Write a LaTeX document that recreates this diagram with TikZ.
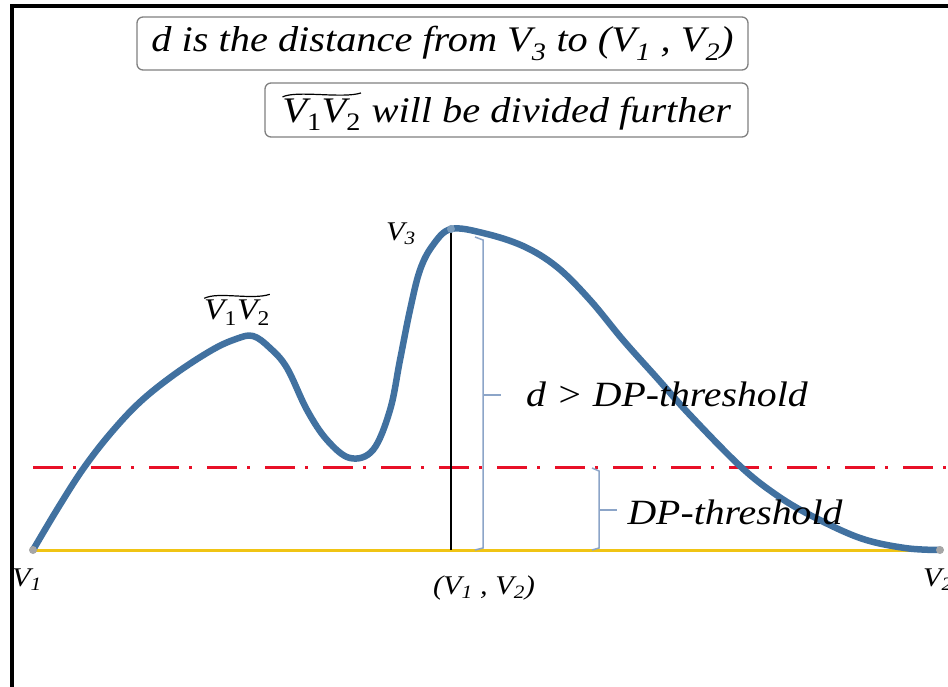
\documentclass[tikz,border=0pt]{standalone}
\usepackage{fontspec}
\setmainfont[FakeStretch=1.12]{Liberation Serif}

\definecolor{curveblue}{RGB}{65,113,160}
\definecolor{chordgold}{RGB}{240,196,20}
\definecolor{threshred}{RGB}{232,16,40}
\definecolor{bracegray}{RGB}{140,165,200}

\tikzset{
  curve/.style={line width=6.5pt, curveblue, line cap=round, line join=round},
  chord/.style={line width=3pt, chordgold},
  threshline/.style={line width=3pt, threshred, dash pattern=on 30pt off 10pt on 3pt off 15pt},
  bracket/.style={line width=1.5pt, bracegray},
  endpt/.style={circle, fill=gray!70, inner sep=0pt, minimum size=8pt},
  lbl/.style={font=\fontsize{27}{30}\selectfont\itshape, inner sep=0pt},
  note/.style={draw=gray, line width=1.3pt, rounded corners=6pt, font=\fontsize{36}{40}\selectfont\itshape, align=center}
}

% arc V1V2 with a wave over it
\newcommand{\arcpair}{\tikz[baseline=(ap.base)]{%
    \node[draw=none, inner sep=0pt, outer sep=0pt, minimum width=0pt, minimum height=0pt] (ap)
        {V\textsubscript{\upshape 1}V\textsubscript{\upshape 2}};
    \draw[black, line width=1.2pt, rounded corners=0pt]
        ([yshift=2pt]ap.north west) .. controls ([xshift=14pt,yshift=9pt]ap.north west)
        and ([xshift=-18pt,yshift=0pt]ap.north east) .. ([yshift=6pt]ap.north east);}}

\begin{document}
\begin{tikzpicture}[x=1pt, y=-1pt]
    \useasboundingbox (0,0) rectangle (948,687);

    % Frame
    \draw[line width=4pt] (11.5,687) -- (11.5,6.5) -- (960,6.5);

    % Notes on top
    \node[note, minimum width=611pt, minimum height=53pt] (note1) at (442.5,43.5)
        {d is the distance from V\textsubscript{3} to (V\textsubscript{1} , V\textsubscript{2})};
    \node[note, minimum width=483pt, minimum height=54pt] (note2) at (506.5,110)
        {\arcpair\ will be divided further};

    % End points of the segment
    \coordinate (v1) at (33,550);
    \coordinate (v2) at (940,550);
    \coordinate (v3) at (451,229);
    \coordinate (foot) at (451,550);

    % Threshold line
    \draw[threshline] (33,467) -- (960,467);

    % Chord from V1 to V2
    \draw[chord] (v1) -- (v2);

    % Distance brackets
    \draw[bracket] (475,237) -- (483,240) -- (483,548) -- (475,550);
    \draw[bracket] (483,395) -- (501,395);
    \draw[bracket] (592,468) -- (599,471) -- (599,548) -- (592,550);
    \draw[bracket] (599,510) -- (617,510);

    % Polyline to be simplified
    \draw[curve] plot[smooth, tension=0.6] coordinates {
        (33,550) (58,508) (83,469) (110,434) (140,402) (175,374) (212,350)
        (236,339) (253,336) (270,348) (287,368) (307,410) (327,440) (350,458)
        (373,450) (390,410) (400,360) (410,310) (420,270) (433,245) (451,229)
        (483,233) (523,246) (557,267) (590,300) (623,340) (657,378) (690,415)
        (740,466) (775,494) (810,515) (860,538) (905,548) (940,550)};

    % Distance d
    \draw[line width=2.5pt] (v3) -- (foot);

    \node[endpt] at (v1) {};
    \node[endpt] at (v2) {};
    \fill[curveblue!70] (v3) circle [radius=4pt];

    % Labels
    \node[lbl] (lv3) at (401,234) {V\textsubscript{3}};
    \node[lbl] (lv1) at (27,580) {V\textsubscript{1}};
    \node[lbl] (lv2) at (938,580) {V\textsubscript{2}};
    \node[lbl] (lfoot) at (484,588) {(V\textsubscript{1} , V\textsubscript{2})};
    \node[lbl, font=\fontsize{30}{32}\selectfont\itshape] (larc) at (237,308) {\arcpair};
    \node[lbl, font=\fontsize{35.5}{38}\selectfont\itshape] (ld) at (667,394) {d > DP-threshold};
    \node[lbl, font=\fontsize{35.5}{38}\selectfont\itshape] (lthr) at (735,512) {DP-threshold};
\end{tikzpicture}
\end{document}
